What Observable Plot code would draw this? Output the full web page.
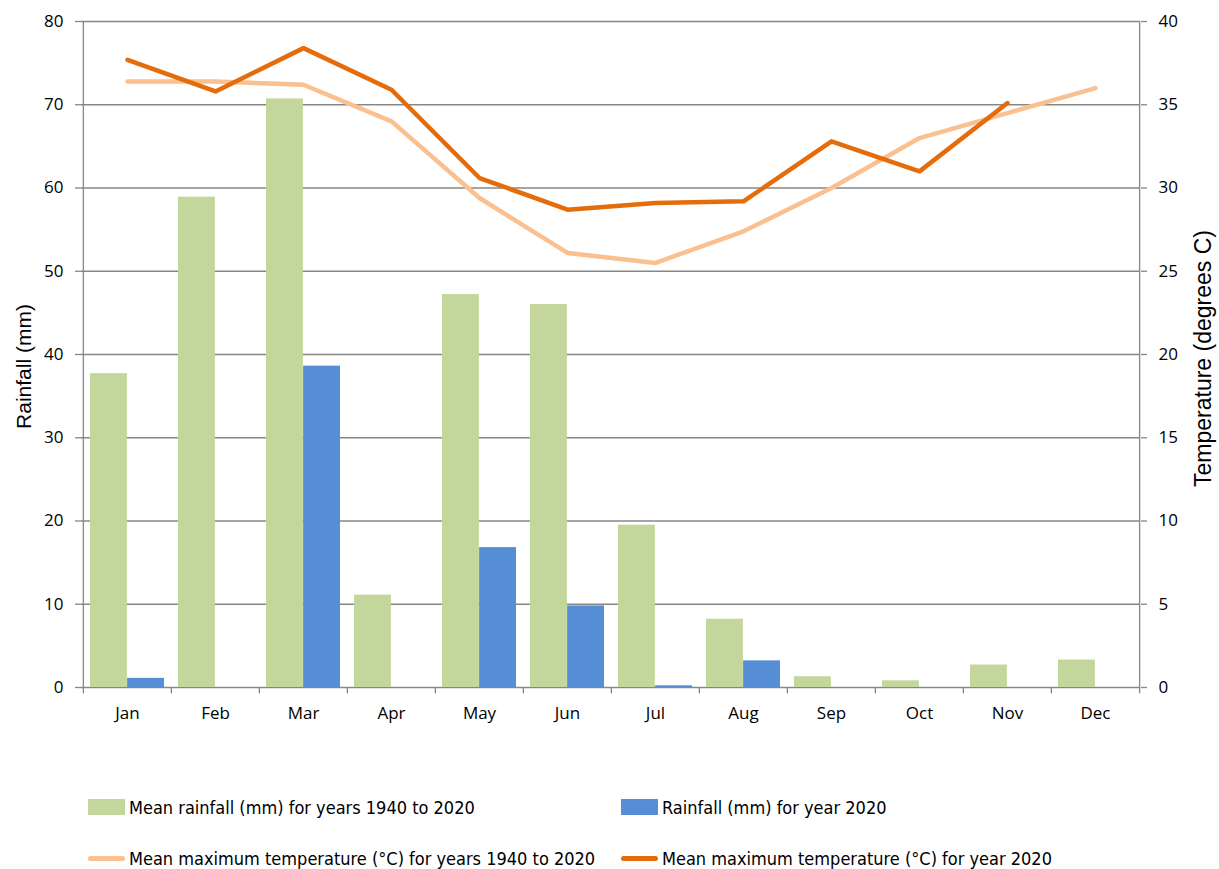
<!DOCTYPE html>
<html>
<head>
<meta charset="utf-8">
<script src="https://cdn.jsdelivr.net/npm/d3@7"></script>
<script src="https://cdn.jsdelivr.net/npm/@observablehq/plot@0.6"></script>
<style>
  body { margin: 0; background: white; }
  #wrap { position: relative; width: 1219px; height: 869px; background: white; }
  .leg { position: absolute; display: flex; align-items: center; font-family: "Liberation Sans Narrow", "DejaVu Sans Condensed", sans-serif; font-size: 18px; color: #000; white-space: nowrap; }
  .sw { width: 37px; height: 16px; margin-right: 4px; }
  .ln { width: 37px; height: 5px; border-radius: 3px; margin-right: 4px; }
</style>
</head>
<body>
<div id="wrap"></div>
<script>
const months = ["Jan","Feb","Mar","Apr","May","Jun","Jul","Aug","Sep","Oct","Nov","Dec"];
const meanRain = [37.7, 58.9, 70.7, 11.1, 47.2, 46.0, 19.5, 8.2, 1.3, 0.8, 2.7, 3.3];
const rain2020 = [1.1, 0, 38.6, 0, 16.8, 9.8, 0.2, 3.2, 0, 0, 0, 0];
const meanTemp = [36.4, 36.4, 36.2, 34.0, 29.4, 26.1, 25.5, 27.4, 30.0, 33.0, 34.5, 36.0];
const temp2020 = [37.7, 35.8, 38.4, 35.9, 30.6, 28.7, 29.1, 29.2, 32.8, 31.0, 35.1, null];
const rainTicks = [0, 10, 20, 30, 40, 50, 60, 70, 80];
const seriesNames = [
  "Mean rainfall (mm) for years 1940 to 2020",
  "Rainfall (mm) for year 2020",
  "Mean maximum temperature (°C) for years 1940 to 2020",
  "Mean maximum temperature (°C) for year 2020"
];
const colors = ["#C3D69B", "#558ED5", "#FAC090", "#E46C0A"];

const rows = months.map((m, i) => ({
  month: m, meanRain: meanRain[i], rain2020: rain2020[i],
  meanTemp: meanTemp[i], temp2020: temp2020[i]
}));

// temperature (0-40) shown on a secondary axis: mapped onto rainfall scale (0-80)
const T = 2;
const W = 1219, H = 740, mL = 81, mR = 79, mT = 21, mB = 53;
const half = (W - mL - mR) / months.length / 2;
const grid = "#878787";

const plot = Plot.plot({
  width: W, height: H,
  marginTop: mT, marginBottom: mB, marginLeft: mL, marginRight: mR,
  x: {domain: months, padding: 0, axis: null},
  y: {domain: [0, 80], axis: null},
  style: {fontFamily: "'Open Sans', sans-serif", fontSize: "17px", color: "#000", background: "white", overflow: "visible"},
  marks: [
    Plot.ruleY(rainTicks, {stroke: grid, strokeWidth: 1.3}),
    Plot.barY(rows, {x: "month", y: "meanRain", fill: colors[0], insetLeft: 7, insetRight: half}),
    Plot.barY(rows, {x: "month", y: "rain2020", fill: colors[1], insetLeft: half, insetRight: 7}),
    // axis lines
    Plot.ruleX([months[0]], {x: d => d, y1: 80, y2: -0.75, dx: -half, stroke: grid, strokeWidth: 1.3}),
    Plot.ruleX([months[months.length - 1]], {x: d => d, y1: 80, y2: -0.75, dx: half, stroke: grid, strokeWidth: 1.3}),
    // category boundary ticks
    Plot.ruleX(months.slice(1), {x: d => d, y1: 0, y2: -0.75, dx: -half, stroke: grid, strokeWidth: 1.3}),
    Plot.line(rows, {x: "month", y: d => d.meanTemp * T, stroke: colors[2], strokeWidth: 4.5, strokeLinecap: "round", strokeLinejoin: "round"}),
    Plot.line(rows, {x: "month", y: d => d.temp2020 == null ? NaN : d.temp2020 * T, stroke: colors[3], strokeWidth: 4.5, strokeLinecap: "round", strokeLinejoin: "round"}),
    Plot.axisY({anchor: "left", ticks: rainTicks, tickSize: 6, tickPadding: 12, label: null, stroke: grid, strokeWidth: 1.3}),
    Plot.axisY({anchor: "right", ticks: rainTicks, tickFormat: d => String(d / T), tickSize: 6, tickPadding: 12, label: null, stroke: grid, strokeWidth: 1.3}),
    Plot.axisX({anchor: "bottom", tickSize: 0, tickPadding: 19, label: null, fontSize: 17}),
    Plot.text(["Rainfall (mm)"], {frameAnchor: "left", text: d => d, rotate: -90, dx: -57, dy: 12, textAnchor: "middle", lineAnchor: "middle", fontSize: 21, fontFamily: "'Liberation Sans', Arial, sans-serif"}),
    Plot.text(["Temperature (degrees C)"], {frameAnchor: "right", text: d => d, rotate: -90, dx: 63, dy: 4, textAnchor: "middle", lineAnchor: "middle", fontSize: 23, fontFamily: "'Liberation Sans', Arial, sans-serif"})
  ]
});

const wrap = document.getElementById("wrap");
wrap.appendChild(plot);

const legendPos = [
  {x: 88, y: 807, kind: "sw"},
  {x: 621, y: 807, kind: "sw"},
  {x: 88, y: 858, kind: "ln"},
  {x: 621, y: 858, kind: "ln"}
];
seriesNames.forEach((name, i) => {
  const p = legendPos[i];
  const d = document.createElement("div");
  d.className = "leg";
  d.style.left = p.x + "px";
  d.style.top = (p.y - 12) + "px";
  d.style.height = "24px";
  const s = document.createElement("span");
  s.className = p.kind;
  s.style.background = colors[i];
  const t = document.createElement("span");
  t.textContent = name;
  d.appendChild(s);
  d.appendChild(t);
  wrap.appendChild(d);
});
</script>
</body>
</html>
